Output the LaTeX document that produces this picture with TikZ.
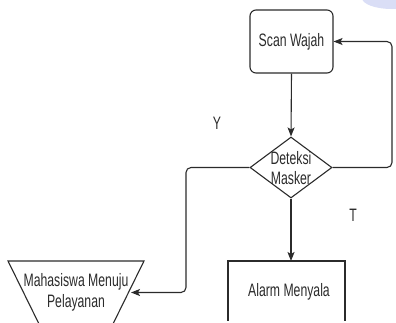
\documentclass[tikz,border=0pt]{standalone}
\usepackage{fontspec}
\setmainfont{Liberation Sans}[FakeStretch=0.68]
\usetikzlibrary{shapes.geometric,arrows.meta}
\definecolor{ink}{HTML}{2B2B2B}
\definecolor{blob}{RGB}{218,222,246}
\begin{document}
\begin{tikzpicture}[x=1pt,y=-1pt,
  every node/.style={font=\fontsize{18}{20.5}\selectfont, text=ink},
  line/.style={draw=ink, line width=1.1pt},
  conn/.style={line, -{Stealth[length=9pt,width=7pt,inset=2pt]}, rounded corners=5pt},
  procbox/.style={line, rectangle, inner sep=0pt},
  lbl/.style={inner sep=0pt}]
\useasboundingbox (0,0) rectangle (396,322);
\fill[blob] (392,-2) ellipse [x radius=30, y radius=11];
\node[procbox, rounded corners=6pt, minimum width=83pt, minimum height=63pt] (scan) at (291.5,41.5) {Scan Wajah};
\node[line, diamond, inner sep=0pt, minimum width=82pt, minimum height=61pt] (dec) at (291,167.5) {};
\node[lbl, align=center] (dectext) at (291,168) {Deteksi\\Masker};
\draw[line] (228,320.5) -- (228,261) -- (345,261) -- (345,320.5);
\coordinate (alarmtop) at (291,261);
\node[lbl] (alarmtext) at (289,292) {Alarm Menyala};
\draw[line] (8,261) -- (144,261) -- (110,330) -- (42,330) -- cycle;
\node[lbl, align=center, inner sep=1pt] (mhs) at (76,292.5) {Mahasiswa Menuju\\Pelayanan};
\coordinate (mhsin) at (131,292.5);
\node[lbl] (y) at (217,123) {Y};
\node[lbl] (t) at (353,215) {T};
\draw[conn] (scan.south) -- (dec.north);
\draw[conn] (dec.south) -- (alarmtop);
\draw[conn] (dec.east) -- (392,167.5) -- (392,41.5) -- (scan.east);
\draw[conn] (dec.west) -- (186,167.5) -- (186,292.5) -- (mhsin);
\end{tikzpicture}
\end{document}
